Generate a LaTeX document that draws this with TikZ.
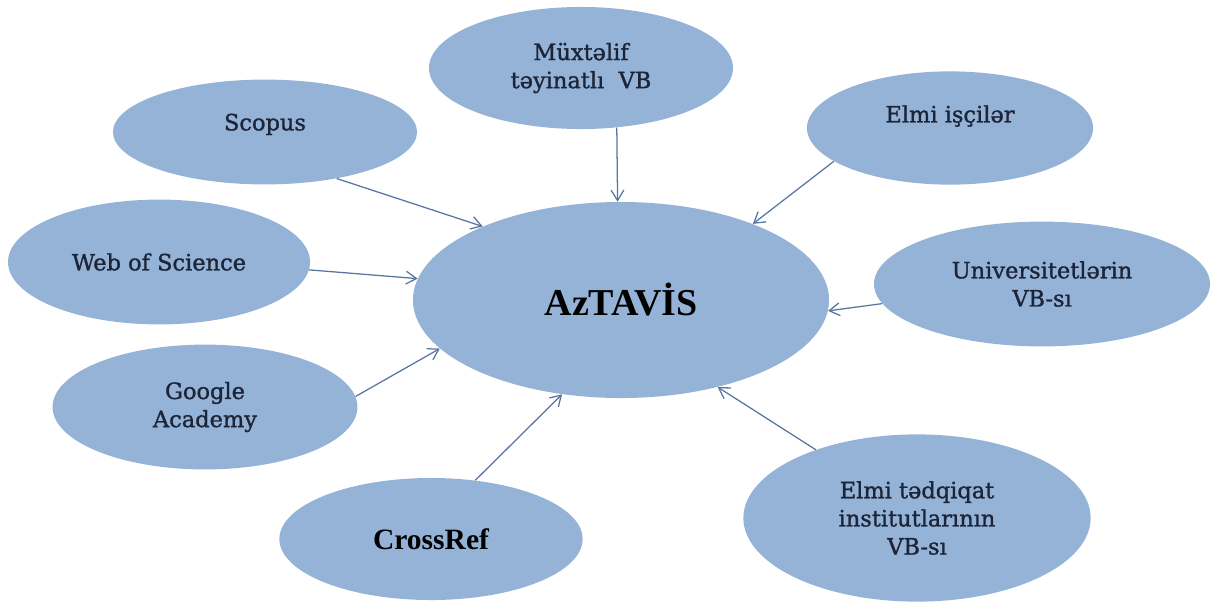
\documentclass[tikz,border=0pt]{standalone}
\usepackage{fontspec}
\setmainfont{DejaVu Serif}
\newfontfamily\labelfont{DejaVu Serif}[FakeBold=1.2]
\newfontfamily\timesfont{Liberation Serif}
\usetikzlibrary{shapes.geometric,arrows.meta}
\definecolor{bubblefill}{RGB}{149,179,215}
\definecolor{arrowcol}{RGB}{88,118,160}
\definecolor{inkcol}{RGB}{28,36,56}
\begin{document}
\begin{tikzpicture}[x=0.025cm,y=-0.025cm,
    leaf_node/.style={ellipse,fill=bubblefill,inner sep=0pt,align=center,text=inkcol,font=\labelfont\fontsize{16}{20}\selectfont},
    hub_node/.style={leaf_node,text=black,font=\timesfont\bfseries\fontsize{27}{32}\selectfont},
    feed/.style={draw=arrowcol,line width=0.9pt,-{Straight Barb[length=2.6mm,width=3.2mm]}}]
    \useasboundingbox (0,0) rectangle (1214,606);
    \node[hub_node,minimum width=10.4cm,minimum height=4.9cm] (hub) at (621,300) {AzTAVİS};
    \node[leaf_node,minimum width=7.6cm,minimum height=2.62cm,text height=0.42cm,text depth=0.5cm] (scopus) at (265,132) {Scopus};
    \node[leaf_node,minimum width=7.6cm,minimum height=3.05cm] (muxtelif) at (581,68) {Müxtəlif\\təyinatlı~ VB};
    \node[leaf_node,minimum width=7.15cm,minimum height=2.83cm,text height=0.42cm,text depth=0.7cm] (isciler) at (950,128) {Elmi işçilər};
    \node[leaf_node,minimum width=7.55cm,minimum height=3.12cm] (wos) at (159,262) {Web of Science};
    \node[leaf_node,minimum width=8.4cm,minimum height=3.12cm] (univ) at (1042,284) {Universitetlərin\\VB-sı};
    \node[leaf_node,minimum width=7.62cm,minimum height=3.12cm] (google) at (205,407) {Google\\Academy};
    \node[leaf_node,minimum width=7.58cm,minimum height=3.05cm,text=black,font=\timesfont\bfseries\fontsize{21}{25}\selectfont] (crossref) at (431,539) {CrossRef};
    \node[leaf_node,minimum width=8.68cm,minimum height=4.18cm] (institut) at (917,518) {Elmi tədqiqat\\institutlarının\\VB-sı};
    \draw[feed] (scopus.-33) -- (hub.152);
    \draw[feed] (muxtelif.-59) -- (hub.92);
    \draw[feed] (isciler.196) -- (hub.30);
    \draw[feed] (wos.-3) -- (hub.174);
    \draw[feed] (univ.187) -- (hub.-3);
    \draw[feed] (google.4) -- (hub.195);
    \draw[feed] (crossref.53) -- (hub.238);
    \draw[feed] (institut.146) -- (hub.-42);
\end{tikzpicture}
\end{document}
